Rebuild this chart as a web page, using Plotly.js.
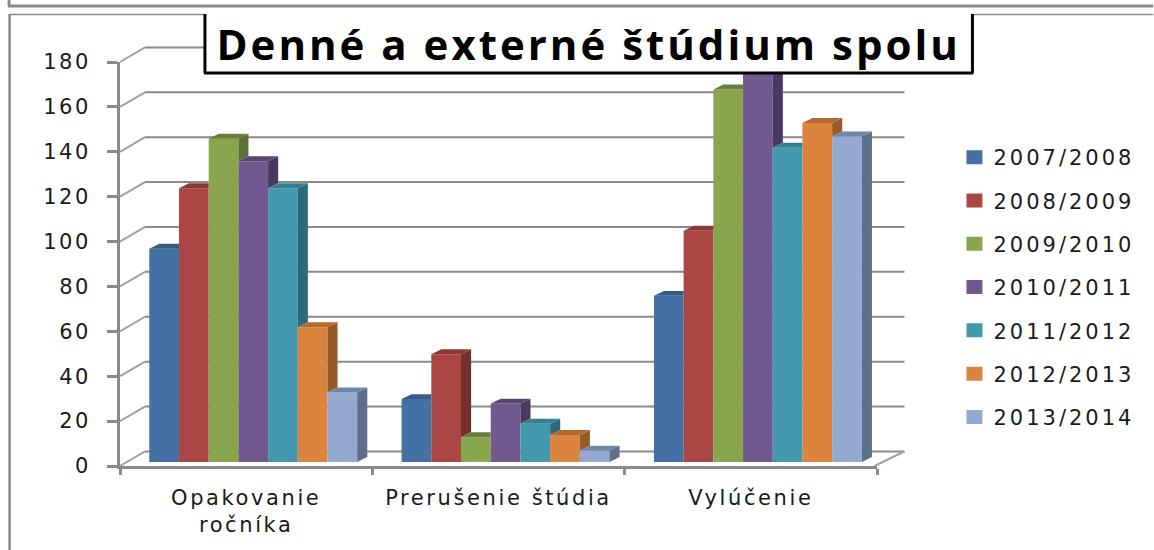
<!DOCTYPE html>
<html><head><meta charset="utf-8">
<script src="https://cdn.plot.ly/plotly-3.0.1.min.js"></script>
<style>
html,body{margin:0;padding:0;background:#fff}
.legendpoints path{transform:translate(21px,0) scale(1.33,1.17)}
.xtick text,.ytick text{letter-spacing:2.6px}
.legendtext{letter-spacing:3px}
.gtitle{letter-spacing:3px}
</style></head><body><div id="chart" style="width:1154px;height:550px"></div>
<script>
const categories = ["Opakovanie<br>ročníka", "Prerušenie štúdia", "Vylúčenie"];
const years = ["2007/2008","2008/2009","2009/2010","2010/2011","2011/2012","2012/2013","2013/2014"];
const v0708 = [95, 28, 74];
const v0809 = [122, 48, 103];
const v0910 = [144, 11, 166];
const v1011 = [134, 26, 176];
const v1112 = [122, 17, 140];
const v1213 = [60, 12, 151];
const v1314 = [31, 5, 145];
const seriesValues = [v0708, v0809, v0910, v1011, v1112, v1213, v1314];
const frontColors = ["#4470a5","#aa4643","#89a54e","#71588f","#4198af","#db843d","#93a9cf"];
const topColors   = ["#385a85","#8a3836","#6a7d3d","#5a4670","#357f92","#b46a2e","#7086a8"];
const sideColors  = ["#2f4f75","#772f2d","#5e7136","#4a3a60","#2b6a7b","#975b2a","#5f6f89"];
const yTicks = [0,20,40,60,80,100,120,140,160,180];

const W=1154,H=550,L=120,T=62,PW=757.5,PH=404;
const px=x=>(x-L)/PW, py=y=>1-(y-T)/PH;
const groupWidth=0.824, groupShift=0.028, barW=groupWidth/years.length;
const baseLift=1.8, sideDx=0.04, sideDy=2.2, wallDx=0.099, wallDy=6.5, wallEnd=3.109;
const xPos=[0.5+groupShift,1.5+groupShift,2.5+groupShift];
const xMax=3, yMax=180;

const traces=[];
seriesValues.forEach((vals,s)=>{
  traces.push({type:'bar',name:years[s],x:xPos,y:vals,base:baseLift,width:barW,
    marker:{color:frontColors[s],line:{width:0}},legendgroup:years[s],
    offset:-groupWidth/2+s*barW,hoverinfo:'y+name'});
});
seriesValues.forEach((vals,s)=>{
  vals.forEach((v,c)=>{
    const left=xPos[c]-groupWidth/2+s*barW, right=left+barW;
    const top=v+baseLift;
    const nextVal=s<years.length-1?seriesValues[s+1][c]+baseLift:null;
    if(nextVal===null||nextVal<top){
      const low=nextVal===null?baseLift:nextVal;
      traces.push({type:'scatter',mode:'lines',x:[right,right+sideDx,right+sideDx,right,right],
        y:[top,top+sideDy,low+sideDy,low,top],fill:'toself',fillcolor:sideColors[s],
        line:{width:0},showlegend:false,hoverinfo:'skip',cliponaxis:false});
    }
    const topRight=(nextVal!==null&&nextVal>top)?right:right+sideDx;
    traces.push({type:'scatter',mode:'lines',x:[left,left+sideDx,topRight,right,left],
      y:[top,top+sideDy,top+sideDy,top,top],fill:'toself',fillcolor:topColors[s],
      line:{width:0},showlegend:false,hoverinfo:'skip',cliponaxis:false});
  });
});

const grey='#8a8a8a';
const shapes=[];
const wall=(x0,y0,x1,y1,color)=>({type:'line',layer:'below',xref:'paper',yref:'paper',
  x0:x0/xMax,y0:y0/yMax,x1:x1/xMax,y1:y1/yMax,line:{color,width:2}});
yTicks.forEach(t=>{
  shapes.push(wall(0,t,wallDx,t+wallDy,'#a0a0a0'));
  shapes.push(wall(wallDx,t+wallDy,wallEnd,t+wallDy,grey));
});
shapes.push(wall(3-0.01,0,wallEnd,wallDy,'#a0a0a0'));
const frame=(x0,y0,x1,y1,color,width)=>({type:'line',layer:'above',xref:'paper',yref:'paper',
  x0:px(x0),y0:py(y0),x1:px(x1),y1:py(y1),line:{color,width}});
shapes.push(frame(8,6,1154,6,grey,3));
shapes.push(frame(9,0,9,6,grey,3));
shapes.push(frame(9,14.5,1154,14.5,grey,1.5));
shapes.push(frame(9.5,14,9.5,550,grey,2.5));
shapes.push({type:'rect',layer:'above',xref:'paper',yref:'paper',x0:px(205),x1:px(973),y0:py(73),y1:py(13),
  fillcolor:'#ffffff',line:{width:0}});
shapes.push(frame(205,14,205,73,'#000',3));
shapes.push(frame(973,14,973,73,'#000',3));
shapes.push(frame(204,73,974,73,'#000',3));

const layout={
  width:W,height:H,paper_bgcolor:'#fff',plot_bgcolor:'rgba(0,0,0,0)',
  margin:{l:L,t:T,r:W-L-PW,b:H-T-PH,pad:0},
  font:{family:'"DejaVu Sans",sans-serif',color:'#1a1a1a',size:21},
  title:{text:'<b>Denné a externé štúdium spolu</b>',xref:'paper',yref:'container',
    x:px(589),xanchor:'center',y:1-45/550,yanchor:'middle',
    font:{family:'"Open Sans",sans-serif',size:42,color:'#000'}},
  barmode:'overlay',showlegend:true,
  legend:{x:px(954),y:py(137),xanchor:'left',yanchor:'top',tracegroupgap:13,
    font:{size:21,color:'#1a1a1a'},bgcolor:'rgba(0,0,0,0)',itemclick:false,itemdoubleclick:false},
  xaxis:{type:'linear',range:[0,xMax],tickmode:'array',tickvals:[0.5,1.5,2.5],ticktext:categories,
    ticks:'',showgrid:false,zeroline:false,showline:true,linecolor:grey,linewidth:2.5,
    ticklabelstandoff:11,tickfont:{size:21,color:'#1a1a1a'},tickangle:0,
    minor:{tickmode:'array',tickvals:[0,1,2,3],ticks:'outside',ticklen:6,tickwidth:2.5,tickcolor:grey,showgrid:false}},
  yaxis:{range:[0,yMax],tickmode:'array',tickvals:yTicks,ticks:'outside',ticklen:10,tickwidth:2.5,tickcolor:grey,
    showgrid:false,zeroline:false,showline:true,linecolor:grey,linewidth:2.5,
    ticklabelstandoff:12,tickfont:{size:21,color:'#1a1a1a'}},
  shapes
};
Plotly.newPlot('chart',traces,layout,{displayModeBar:false});
</script></body></html>
